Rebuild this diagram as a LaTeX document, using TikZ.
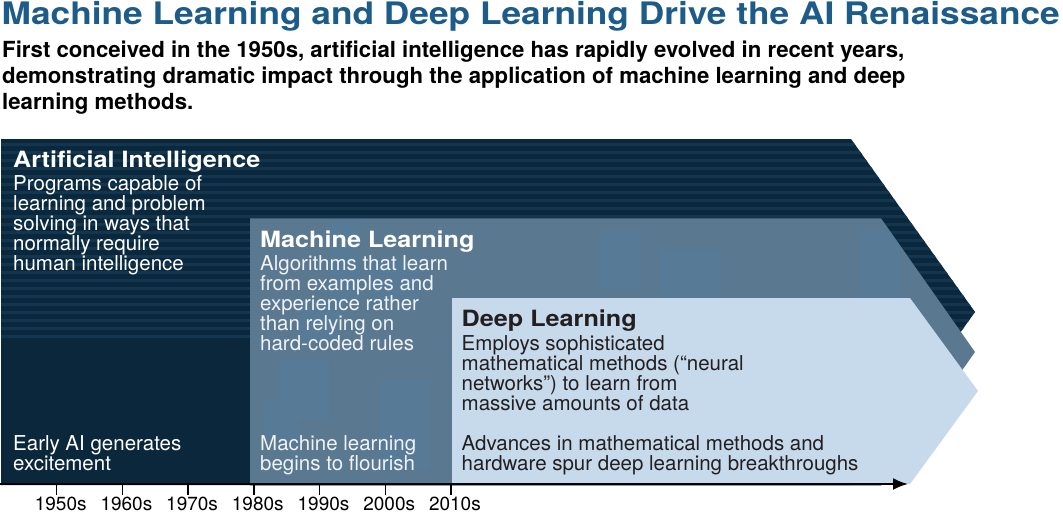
\documentclass[tikz,border=0pt]{standalone}
\usepackage{fontspec}
\setmainfont{TeX Gyre Heros}
\newfontfamily\hdfont[FakeStretch=1.125]{TeX Gyre Heros}
\newfontfamily\ttlfont[FakeStretch=1.138]{TeX Gyre Heros}
\usetikzlibrary{arrows.meta}
\newcommand\blines[1]{\vtop{\let\\\cr\halign{##\hfil\cr#1\crcr}}}
\definecolor{titleblue}{HTML}{1D5B88}
\definecolor{ainavy}{HTML}{0B273B}
\definecolor{aistripe}{HTML}{12364F}
\definecolor{mlgray}{HTML}{5A7890}
\definecolor{mlblot}{HTML}{4C86B4}
\definecolor{dllight}{HTML}{C6DAEC}
\definecolor{dltext}{HTML}{231F20}
\definecolor{mltext}{HTML}{F0F3F6}
\begin{document}
\begin{tikzpicture}[x=1pt,y=-1pt,
  txt/.style={anchor=base west,inner sep=0pt,font=\fontsize{20.5}{20}\selectfont},
  hd/.style={anchor=base west,inner sep=0pt,font=\hdfont\bfseries\fontsize{22.4}{24}\selectfont},
  tick/.style={anchor=base,inner sep=0pt,font=\fontsize{19}{20}\selectfont,text=black},
  axis/.style={line width=2.2pt,-{Latex[length=15pt,width=12pt]}}]
\useasboundingbox (0,0) rectangle (1063,514);
% title and subtitle
\node[anchor=base west,inner sep=0pt,text=titleblue,font=\ttlfont\bfseries\fontsize{31}{31}\selectfont] (title) at (1.5,24)
  {Machine Learning and Deep Learning Drive the AI Renaissance};
\node[anchor=base west,inner sep=0pt,text=black,font=\bfseries\fontsize{22.2}{26.3}\selectfont] (sub) at (2,57)
  {\blines{First conceived in the 1950s, artificial intelligence has rapidly evolved in recent years,\\
   demonstrating dramatic impact through the application of machine learning and deep\\
   learning methods.}};
% Artificial intelligence shape
\fill[ainavy] (1,139) -- (851,139) -- (975,312) -- (851,485) -- (1,485) -- cycle;
\begin{scope}
  \clip (1,139) -- (851,139) -- (975,312) -- (851,485) -- (1,485) -- cycle;
  \foreach \yy in {143,151,159,167,175,183,191,199,207,215,223,231,239,247,255,263,271,279,287,295,303,311,319,327,335}
    \fill[aistripe] (1,\yy) rectangle (1000,\yy+3);
\end{scope}
% Machine learning shape
\fill[mlgray] (250,218.3) -- (881,218.3) -- (975,352) -- (881,485.7) -- (250,485.7) -- cycle;
\begin{scope}
  \clip (250,218.3) -- (881,218.3) -- (975,352) -- (881,485.7) -- (250,485.7) -- cycle;
  \fill[mlblot,opacity=0.2] (330,222) rectangle (360,300) (370,260) rectangle (420,300) (600,230) rectangle (640,290)
     (660,250) rectangle (720,298) (860,230) rectangle (900,300) (280,360) rectangle (330,420) (300,300) rectangle (340,340)
     (380,380) rectangle (430,470) (265,400) rectangle (300,440);
\end{scope}
% Deep learning shape
\fill[dllight] (452,298) -- (910,298) -- (978,391) -- (910,484) -- (452,484) -- cycle;
% texts
\node[hd,text=white] (aihd) at (13,167) {Artificial Intelligence};
\node[txt,text=white] (aitx) at (13,190.7) {\blines{Programs capable of\\learning and problem\\solving in ways that\\normally require\\human intelligence}};
\node[txt,text=white] (aiera) at (13,450) {\blines{Early AI generates\\excitement}};
\node[hd,text=white] (mlhd) at (260,247.7) {Machine Learning};
\node[txt,text=mltext] (mltx) at (260,270.7) {\blines{Algorithms that learn\\from examples and\\experience rather\\than relying on\\hard-coded rules}};
\node[txt,text=mltext] (mlera) at (260,450) {\blines{Machine learning\\begins to flourish}};
\node[hd,text=dltext] (dlhd) at (461.5,326.7) {Deep Learning};
\node[txt,text=dltext] (dltx) at (461.5,350) {\blines{Employs sophisticated\\mathematical methods (“neural\\networks”) to learn from\\massive amounts of data}};
\node[txt,text=dltext] (dlera) at (461.5,450) {\blines{Advances in mathematical methods and\\hardware spur deep learning breakthroughs}};
% axis
\coordinate (a0) at (0,484);
\coordinate (a1) at (908,484);
\draw[axis] (a0) -- (a1);
\foreach \lab [count=\i from 0] in {1950s,1960s,1970s,1980s,1990s,2000s,2010s}{
  \coordinate (t\i) at (56.7+65.7*\i,484);
  \coordinate (b\i) at (56.7+65.7*\i,495);
  \draw[line width=1.4pt] (t\i) -- (b\i);
  \node[tick] (y\i) at (60.7+65.7*\i,510) {\lab};
}
\end{tikzpicture}
\end{document}
